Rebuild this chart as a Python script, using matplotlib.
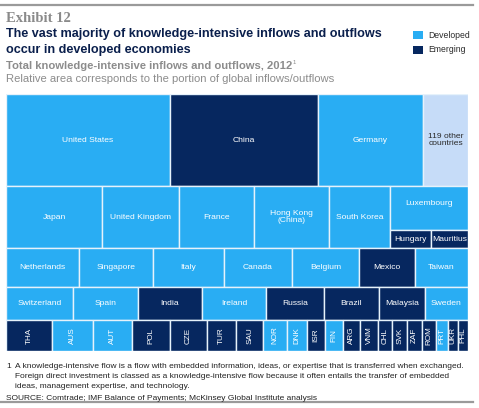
import matplotlib
matplotlib.use("Agg")
import matplotlib.pyplot as plt
from matplotlib.patches import Rectangle
from matplotlib.lines import Line2D

# ---------------- data (share of global knowledge-intensive flows, %) ----------------
row1_names = ["United States", "China", "Germany", "119 other\ncountries"]
row1_values = [12.71, 11.47, 8.14, 3.49]
row1_groups = ["dev", "emg", "dev", "oth"]

row2_names = ["Japan", "United Kingdom", "France", "Hong Kong\n(China)", "South Korea"]
row2_values = [5.01, 4.02, 3.92, 3.92, 3.19]
row2_groups = ["dev", "dev", "dev", "dev", "dev"]
row2_stack_top_name = "Luxembourg"
row2_stack_top_value = 2.89
row2_stack_top_group = "dev"
row2_stack_bottom_names = ["Hungary", "Mauritius"]
row2_stack_bottom_values = [0.62, 0.56]
row2_stack_bottom_groups = ["emg", "emg"]

row3_names = ["Netherlands", "Singapore", "Italy", "Canada", "Belgium", "Mexico", "Taiwan"]
row3_values = [2.40, 2.43, 2.33, 2.23, 2.20, 1.84, 1.74]
row3_groups = ["dev", "dev", "dev", "dev", "dev", "emg", "dev"]

row4_names = ["Switzerland", "Spain", "India", "Ireland", "Russia", "Brazil", "Malaysia", "Sweden"]
row4_values = [1.86, 1.81, 1.78, 1.78, 1.61, 1.53, 1.28, 1.20]
row4_groups = ["dev", "dev", "emg", "dev", "emg", "emg", "emg", "dev"]

row5_names = ["THA", "AUS", "AUT", "POL", "CZE", "TUR", "SAU", "NOR", "DNK", "ISR",
              "FIN", "ARG", "VNM", "CHL", "SVK", "ZAF", "ROM", "PRT", "UKR", "PHL"]
row5_values = [1.20, 1.07, 1.02, 0.99, 0.97, 0.76, 0.70, 0.63, 0.52, 0.47,
               0.47, 0.44, 0.47, 0.37, 0.39, 0.39, 0.37, 0.31, 0.26, 0.26]
row5_groups = ["emg", "dev", "dev", "emg", "emg", "emg", "emg", "dev", "dev", "emg",
               "dev", "emg", "emg", "emg", "emg", "emg", "emg", "dev", "emg", "emg"]

legend_labels = ["Developed", "Emerging"]

# ---------------- styles ----------------
COL = {"dev": "#29adf3", "emg": "#06275f", "oth": "#c6dcf8"}
TXT = {"dev": "white", "emg": "white", "oth": "#2a2a2a"}
SANS = ["Liberation Sans", "DejaVu Sans"]
SERIF = ["Liberation Serif", "DejaVu Serif"]
plt.rcParams["font.family"] = SANS

W, H = 479, 408
fig = plt.figure(figsize=(W / 100, H / 100), dpi=100)
fig.patch.set_facecolor("white")


def fx(px):
    return px / W


def fy(py):
    return 1 - py / H


# ---------------- treemap axes ----------------
ax = fig.add_axes([fx(6), fy(351), fx(462), 257 / H])
ax.set_xlim(0, 1)
total = (sum(row1_values) + sum(row2_values) + row2_stack_top_value +
         sum(row2_stack_bottom_values) + sum(row3_values) + sum(row4_values) +
         sum(row5_values))
ax.set_ylim(total, 0)
ax.axis("off")

LFS = 6.1


def box(x, y, w, h, name, grp, fs=LFS, rot=0, ty=None):
    ax.add_patch(Rectangle((x, y), w, h, facecolor=COL[grp], edgecolor="#e6f2fb",
                           linewidth=1.0))
    ax.text(x + w / 2, y + h / 2 if ty is None else ty, name, ha="center", va="center",
            color=TXT[grp], fontsize=fs, rotation=rot, linespacing=1.15)


def layout_row(y0, names, values, groups, extra=0.0, fs=LFS, rot=0):
    rsum = sum(values) + extra
    x = 0.0
    for n, v, g in zip(names, values, groups):
        w = v / rsum
        box(x, y0, w, rsum, n, g, fs=fs, rot=rot)
        x += w
    return x, rsum


y = 0.0
_, h1 = layout_row(y, row1_names, row1_values, row1_groups)
y += h1

stack_sum = row2_stack_top_value + sum(row2_stack_bottom_values)
x, h2 = layout_row(y, row2_names, row2_values, row2_groups, extra=stack_sum)
wcol = stack_sum / h2
htop = h2 * row2_stack_top_value / stack_sum
box(x, y, wcol, htop, row2_stack_top_name, row2_stack_top_group, ty=y + htop * 0.4)
hb = h2 - htop
bsum = sum(row2_stack_bottom_values)
xb = x
for n, v, g in zip(row2_stack_bottom_names, row2_stack_bottom_values, row2_stack_bottom_groups):
    wb = wcol * v / bsum
    box(xb, y + htop, wb, hb, n, g)
    xb += wb
y += h2

_, h3 = layout_row(y, row3_names, row3_values, row3_groups)
y += h3
_, h4 = layout_row(y, row4_names, row4_values, row4_groups)
y += h4
_, h5 = layout_row(y, row5_names, row5_values, row5_groups, fs=5.9, rot=90)

# ---------------- header text ----------------
fig.add_artist(Line2D([0, fx(473)], [fy(5), fy(5)], color="#9a9a9a", linewidth=1.6))
fig.add_artist(Line2D([0, fx(473)], [fy(402), fy(402)], color="#9a9a9a", linewidth=1.6))

fig.text(fx(6), fy(18), "Exhibit 12", family=SERIF, fontweight="bold", fontsize=10.5,
         color="#8a8a8a", va="center", ha="left")
fig.text(fx(6), fy(34), "The vast majority of knowledge-intensive inflows and outflows",
         fontweight="bold", fontsize=9.1, color="#0a1f4c", va="center", ha="left")
fig.text(fx(6), fy(50), "occur in developed economies",
         fontweight="bold", fontsize=9.1, color="#0a1f4c", va="center", ha="left")
fig.text(fx(6), fy(66), "Total knowledge-intensive inflows and outflows, 2012",
         fontweight="bold", fontsize=8.1, color="#8c8c8c", va="center", ha="left")
fig.text(fx(293), fy(63), "1", fontsize=4.3, color="#8c8c8c", va="center", ha="left")
fig.text(fx(6), fy(79), "Relative area corresponds to the portion of global inflows/outflows",
         fontsize=8.1, color="#8c8c8c", va="center", ha="left")

# legend
for i, (lab, g) in enumerate(zip(legend_labels, ["dev", "emg"])):
    yc = 35 + 15 * i
    fig.add_artist(Rectangle((fx(413), fy(yc + 4)), fx(10), 8 / H, facecolor=COL[g],
                             edgecolor="none", transform=fig.transFigure))
    fig.text(fx(428), fy(yc), lab, fontsize=6.2, color="#2a2a2a", va="center", ha="left")

# ---------------- footnotes ----------------
FFS = 6.05
fig.text(fx(6), fy(366), "1", fontsize=FFS, color="#222222", va="center", ha="left")
foot = ["A knowledge-intensive flow is a flow with embedded information, ideas, or expertise that is transferred when exchanged.",
        "Foreign direct investment is classed as a knowledge-intensive flow because it often entails the transfer of embedded",
        "ideas, management expertise, and technology."]
for i, line in enumerate(foot):
    fig.text(fx(15), fy(366 + 10 * i), line, fontsize=FFS, color="#222222",
             va="center", ha="left")
fig.text(fx(6), fy(398), "SOURCE: Comtrade; IMF Balance of Payments; McKinsey Global Institute analysis",
         fontsize=FFS, color="#222222", va="center", ha="left")

fig.savefig("out.png", dpi=100, facecolor="white")
